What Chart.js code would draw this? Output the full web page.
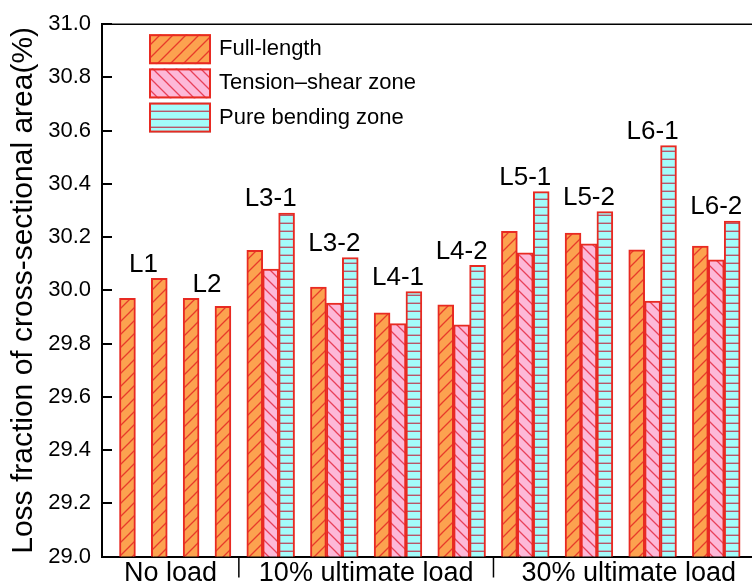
<!DOCTYPE html>
<html>
<head>
<meta charset="utf-8">
<script src="https://cdn.jsdelivr.net/npm/chart.js@4.4.0/dist/chart.umd.min.js"></script>
<style>
  html, body { margin: 0; padding: 0; background: #fff; overflow: hidden; }
</style>
</head>
<body>
<canvas id="lossChart" width="766" height="588"></canvas>
<script>
// Bar clusters in drawing order (no-load specimens L1 and L2 have two full-length bars each)
const clusters = ['L1', 'L1', 'L2', 'L2', 'L3-1', 'L3-2', 'L4-1', 'L4-2', 'L5-1', 'L5-2', 'L6-1', 'L6-2'];
const loadCases = ['No load', 'No load', 'No load', 'No load',
  '10% ultimate load', '10% ultimate load', '10% ultimate load', '10% ultimate load',
  '30% ultimate load', '30% ultimate load', '30% ultimate load', '30% ultimate load'];

// Loss fraction of cross-sectional area (%)
const fullLength   = [29.97, 30.045, 29.97, 29.94, 30.15, 30.012, 29.916, 29.946, 30.222, 30.215, 30.152, 30.166];
const tensionShear = [null, null, null, null, 30.08, 29.952, 29.875, 29.87, 30.141, 30.175, 29.96, 30.115];
const pureBending  = [null, null, null, null, 30.29, 30.123, 29.995, 30.094, 30.371, 30.296, 30.544, 30.26];

const seriesNames = ['Full-length', 'Tension\u2013shear zone', 'Pure bending zone'];
const yMin = 29.0;
const yMax = 31.0;
const yStep = 0.2;

const FONT = 'Liberation Sans, Arial, sans-serif';
const RED = '#e82a22';

// Hatch patterns
function makePattern(bg, draw) {
  const c = document.createElement('canvas');
  const size = draw.size;
  c.width = size; c.height = size;
  const g = c.getContext('2d');
  g.fillStyle = bg;
  g.fillRect(0, 0, size, size);
  draw(g, size);
  return g.createPattern(c, 'repeat');
}
function forward(g, s) { // "/" lines
  g.strokeStyle = '#e83a2a'; g.lineWidth = 1.3;
  g.beginPath();
  g.moveTo(-1, s + 1); g.lineTo(s + 1, -1);
  g.moveTo(-1, 1); g.lineTo(1, -1);
  g.moveTo(s - 1, s + 1); g.lineTo(s + 1, s - 1);
  g.stroke();
}
forward.size = 13;
function backward(g, s) { // "\" lines
  g.strokeStyle = '#e8405a'; g.lineWidth = 1.3;
  g.beginPath();
  g.moveTo(-1, -1); g.lineTo(s + 1, s + 1);
  g.moveTo(s - 1, -1); g.lineTo(s + 1, 1);
  g.moveTo(-1, s - 1); g.lineTo(1, s + 1);
  g.stroke();
}
backward.size = 12;
function horizontal(g, s) {
  g.strokeStyle = '#b8566a'; g.lineWidth = 1.4;
  g.beginPath();
  g.moveTo(0, s - 0.7); g.lineTo(s, s - 0.7);
  g.stroke();
}
horizontal.size = 8;

const fills = [
  makePattern('#fca24f', forward),
  makePattern('#fdb8d8', backward),
  makePattern('#a3fcfb', horizontal)
];

// Slot layout: one slot per bar, one empty slot after each cluster
const seriesValues = [fullLength, tensionShear, pureBending];
const slotData = [[], [], []];
const clusterSlots = [];
const dividers = [];
let slot = 0;
clusters.forEach((name, i) => {
  const first = slot;
  seriesValues.forEach((vals, k) => {
    if (vals[i] !== null) {
      slotData[k].push({ x: slot, y: vals[i] });
      slot++;
    }
  });
  clusterSlots.push([first, slot - 1]);
  if (i < clusters.length - 1 && loadCases[i + 1] !== loadCases[i]) dividers.push(slot);
  slot++;
});

// Extra drawing: frame, inward ticks, labels, legend
const decorations = {
  id: 'decorations',
  afterDraw(chart) {
    const ctx = chart.ctx;
    const area = chart.chartArea;
    const xs = chart.scales.x;
    const ys = chart.scales.y;
    ctx.save();
    ctx.strokeStyle = '#000';

    // top frame line
    ctx.lineWidth = 1.5;
    ctx.beginPath();
    ctx.moveTo(area.left, area.top);
    ctx.lineTo(area.right, area.top);
    ctx.stroke();

    // inward y ticks
    ctx.lineWidth = 2;
    ys.ticks.forEach(t => {
      const y = Math.round(ys.getPixelForValue(t.value));
      ctx.beginPath();
      ctx.moveTo(area.left, y);
      ctx.lineTo(area.left + 10, y);
      ctx.stroke();
    });

    // group divider ticks below the axis
    ctx.lineWidth = 1.5;
    dividers.forEach(d => {
      const x = xs.getPixelForValue(d);
      ctx.beginPath();
      ctx.moveTo(x, area.bottom);
      ctx.lineTo(x, area.bottom + 21);
      ctx.stroke();
    });

    // group labels centred between dividers
    const edges = [area.left].concat(dividers.map(d => xs.getPixelForValue(d)), [area.right]);
    const groupNames = loadCases.filter((g, i) => i === 0 || loadCases[i - 1] !== g);
    ctx.fillStyle = '#000';
    ctx.font = '27px ' + FONT;
    ctx.textAlign = 'center';
    ctx.textBaseline = 'middle';
    groupNames.forEach((g, i) => {
      ctx.fillText(g, (edges[i] + edges[i + 1]) / 2, area.bottom + 17);
    });

    // specimen labels above each specimen's bars
    ctx.font = '26px ' + FONT;
    const names = clusters.filter((c, i) => i === 0 || clusters[i - 1] !== c);
    names.forEach(name => {
      let lo = Infinity, hi = -Infinity, top = Infinity;
      clusters.forEach((c, i) => {
        if (c !== name) return;
        lo = Math.min(lo, clusterSlots[i][0]);
        hi = Math.max(hi, clusterSlots[i][1]);
        seriesValues.forEach(vals => {
          if (vals[i] !== null) top = Math.min(top, ys.getPixelForValue(vals[i]));
        });
      });
      const x = (xs.getPixelForValue(lo) + xs.getPixelForValue(hi)) / 2;
      ctx.fillText(name, x, top - 14);
    });

    // legend in the upper left of the plot
    ctx.textAlign = 'left';
    ctx.font = '22px ' + FONT;
    chart.data.datasets.forEach((ds, i) => {
      const bx = area.left + 47;
      const by = area.top + 10 + i * 34.2;
      ctx.fillStyle = ds.backgroundColor;
      ctx.fillRect(bx, by, 62, 30);
      ctx.strokeStyle = RED;
      ctx.lineWidth = 2;
      ctx.strokeRect(bx + 1, by + 1, 60, 28);
      ctx.fillStyle = '#000';
      ctx.fillText(ds.label, bx + 70, by + 15);
    });
    ctx.restore();
  }
};

const lossChart = new Chart(document.getElementById('lossChart'), {
  type: 'bar',
  data: {
    datasets: seriesNames.map((name, k) => ({
      label: name,
      data: slotData[k],
      backgroundColor: fills[k],
      borderColor: RED,
      borderWidth: 2,
      borderSkipped: false,
      grouped: false,
      barPercentage: 1,
      categoryPercentage: 1
    }))
  },
  options: {
    responsive: false,
    animation: false,
    layout: { padding: { top: 23, left: 0, right: 2, bottom: 0 } },
    plugins: {
      legend: { display: false },
      tooltip: { enabled: false }
    },
    scales: {
      x: {
        type: 'linear',
        offset: false,
        min: -1.6,
        max: 40,
        ticks: { display: false },
        grid: { drawOnChartArea: false, drawTicks: false, offset: false },
        border: { display: true, color: '#000', width: 2 },
        afterFit: s => { s.height = 31.5; }
      },
      y: {
        min: yMin,
        max: yMax,
        ticks: {
          stepSize: yStep,
          padding: 11,
          color: '#000',
          font: { family: FONT, size: 22 },
          callback: v => v.toFixed(1)
        },
        grid: { drawOnChartArea: false, drawTicks: false },
        border: { display: true, color: '#000', width: 2 },
        title: {
          display: true,
          text: 'Loss fraction of cross-sectional area(%)',
          color: '#000',
          font: { family: FONT, size: 30 },
          padding: { top: 6, bottom: 0 }
        },
        afterFit: s => { s.width = 102; }
      }
    }
  },
  plugins: [decorations]
});
</script>
</body>
</html>
